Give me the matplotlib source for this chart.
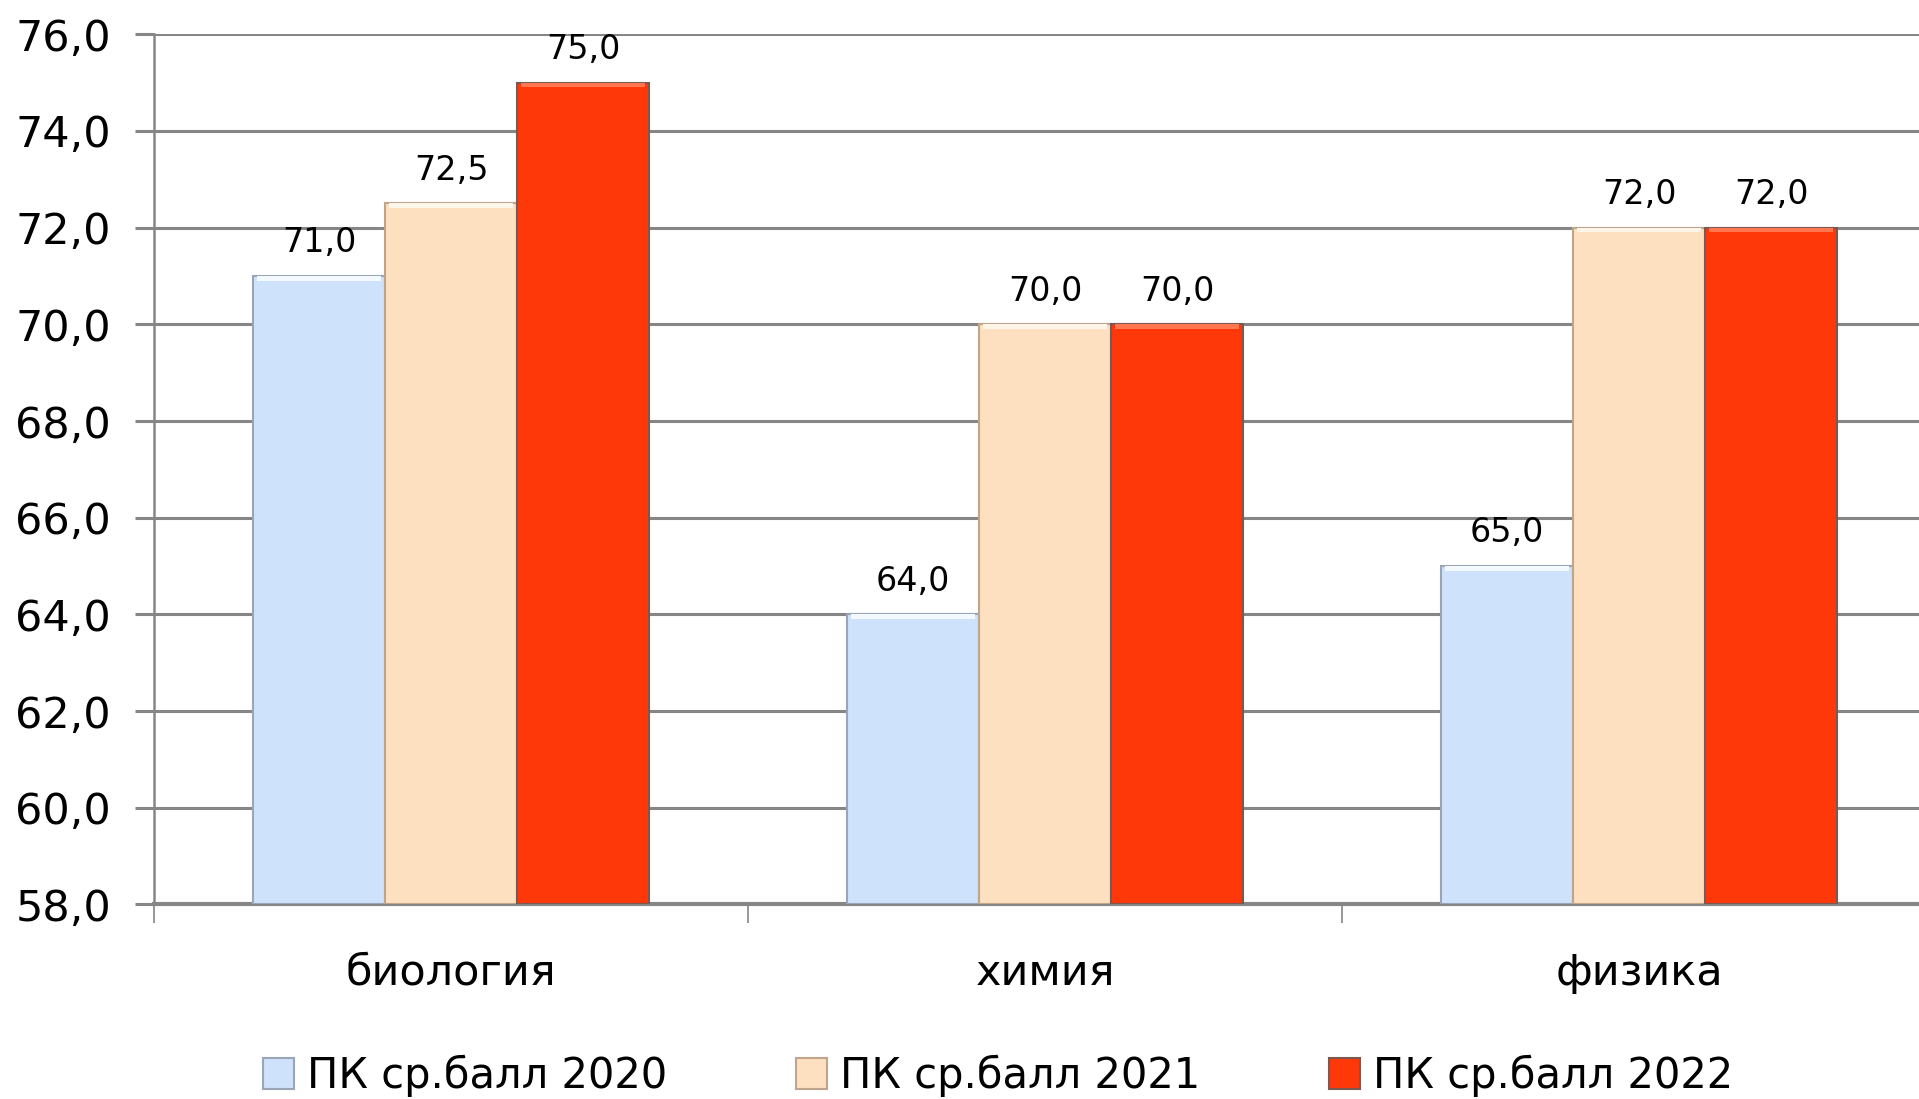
import matplotlib
matplotlib.use("Agg")
import matplotlib.pyplot as plt
import numpy as np
from matplotlib.ticker import FixedLocator, FuncFormatter

categories = ["биология", "химия", "физика"]
series_names = ["ПК ср.балл 2020", "ПК ср.балл 2021", "ПК ср.балл 2022"]
values_2020 = [71.0, 64.0, 65.0]
values_2021 = [72.5, 70.0, 72.0]
values_2022 = [75.0, 70.0, 72.0]
y_ticks = [58, 60, 62, 64, 66, 68, 70, 72, 74, 76]

colors = ["#CFE2FB", "#FDE0C0", "#FF380A"]
edge_colors = ["#9AA6B8", "#BFA58C", "#7A5A50"]
highlight_colors = ["#F4F9FF", "#FFF6EA", "#FF7650"]

plt.rcParams['font.family'] = ['DejaVu Sans']

fig = plt.figure(figsize=(19.19, 10.99), dpi=100)
ax = fig.add_axes([0.0803, 0.177, 0.9286, 0.7918])

x = np.arange(len(categories))
bw = 1 / 4.5
series = [values_2020, values_2021, values_2022]
hl = 0.1
for i, vals in enumerate(series):
    pos = x + (i - 1) * bw
    v = np.array(vals)
    ax.bar(pos, v - 58, bottom=58, width=bw, color=colors[i],
           edgecolor=edge_colors[i], linewidth=1.5, label=series_names[i], zorder=3)
    ax.bar(pos, hl, bottom=v - hl, width=bw * 0.94, color=highlight_colors[i],
           linewidth=0, zorder=4)
    for px, val in zip(pos, vals):
        ax.annotate(f"{val:.1f}".replace(".", ","), (px, val), xytext=(0, 12),
                    textcoords="offset points", ha="center", va="bottom",
                    fontsize=24, color="black", zorder=5)

ax.set_xlim(-0.5, 2.5)
ax.set_ylim(58, 76)
ax.yaxis.set_major_locator(FixedLocator(y_ticks))
ax.yaxis.set_major_formatter(FuncFormatter(lambda v, p: f"{v:.1f}".replace(".", ",")))
ax.grid(axis="y", color="#868686", linewidth=2.2, zorder=0)
ax.set_axisbelow(True)

ax.set_xticks(x)
ax.set_xticklabels(categories, fontsize=31)
ax.set_xticks(np.arange(-0.5, 3.0, 1.0), minor=True)
ax.tick_params(axis="x", which="major", length=0, pad=34)
ax.tick_params(axis="x", which="minor", length=14, width=1.2, color="#868686")
ax.tick_params(axis="y", length=14, width=2.2, color="#868686", labelsize=31, pad=17)

for s in ["top", "right"]:
    ax.spines[s].set_visible(False)
ax.spines["left"].set_color("#868686")
ax.spines["left"].set_linewidth(1.8)
ax.spines["bottom"].set_color("#868686")
ax.spines["bottom"].set_linewidth(3)

fig.legend(handles=ax.containers[::2], labels=series_names,
           loc="center", bbox_to_anchor=(0.52, 0.021), ncol=3, frameon=False,
           fontsize=30, handlelength=0.75, handleheight=0.75, handletextpad=0.3,
           columnspacing=3.1)

fig.savefig("out.png", dpi=100)
